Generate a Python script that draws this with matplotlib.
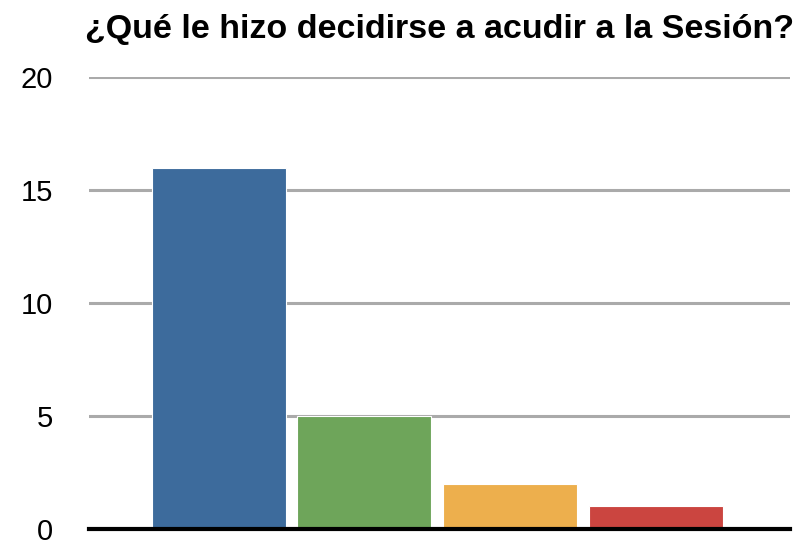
import matplotlib
matplotlib.use("Agg")
import matplotlib.pyplot as plt

plt.rcParams['font.family'] = ['Liberation Sans', 'DejaVu Sans']

# respuestas
categorias = ["A", "B", "C", "D"]
valores = [16, 5, 2, 1]
colores = ["#3d6b9c", "#6ea55a", "#edaf4d", "#cb4540"]
ticks_y = [0, 5, 10, 15, 20]

fig = plt.figure(figsize=(8.02, 5.44), dpi=100)
ax = fig.add_axes([0.111, 0.028, 0.874, 0.830])

ax.bar(range(len(categorias)), valores, width=0.92, color=colores,
       edgecolor="white", linewidth=0.8, zorder=3)

ax.set_ylim(0, 20)
ax.set_xlim(-0.89, 3.92)
ax.set_yticks(ticks_y)
ax.set_yticklabels([str(t) for t in ticks_y], fontsize=21)
ax.set_xticks([])
ax.tick_params(axis="y", length=0, pad=26)
ax.yaxis.grid(True, color="#aaaaaa", linewidth=2.2, zorder=0)
for s in ["top", "right", "left"]:
    ax.spines[s].set_visible(False)
ax.spines["bottom"].set_linewidth(3)
ax.spines["bottom"].set_color("black")
ax.spines["bottom"].set_zorder(4)

ax.set_title("¿Qué le hizo decidirse a acudir a la Sesión?", fontsize=24.5,
             fontweight="bold", pad=28)

fig.savefig("out.png", dpi=100)
